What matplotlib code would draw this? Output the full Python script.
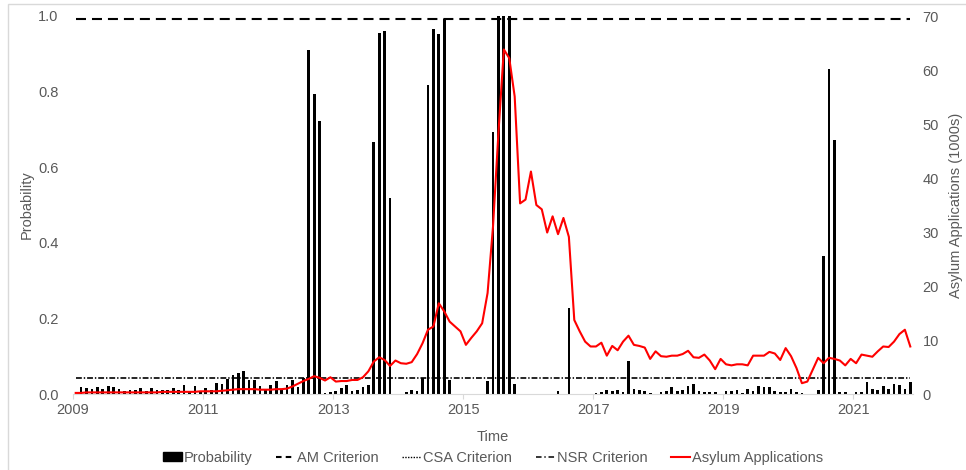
import matplotlib
matplotlib.use("Agg")
import matplotlib.pyplot as plt
import numpy as np
from matplotlib.lines import Line2D
from matplotlib.patches import Patch, Rectangle

plt.rcParams['font.family'] = ['Liberation Sans', 'DejaVu Sans']
plt.rcParams['lines.scale_dashes'] = False

# ---------------- data (monthly, Jan 2009 .. Nov 2021) ----------------
start_year = 2009
year_labels = ['2009', '2011', '2013', '2015', '2017', '2019', '2021']

probability = [
    0.000, 0.018, 0.016, 0.013, 0.018, 0.014, 0.022, 0.018, 0.013, 0.007, 0.010, 0.010,   # 2009
    0.016, 0.007, 0.016, 0.010, 0.011, 0.010, 0.016, 0.010, 0.025, 0.007, 0.022, 0.007,   # 2010
    0.016, 0.010, 0.029, 0.027, 0.040, 0.051, 0.056, 0.060, 0.038, 0.036, 0.020, 0.014,   # 2011
    0.025, 0.035, 0.011, 0.025, 0.036, 0.018, 0.043, 0.911, 0.794, 0.723, 0.003, 0.004,   # 2012
    0.007, 0.016, 0.025, 0.007, 0.010, 0.019, 0.025, 0.667, 0.955, 0.959, 0.518, 0.000,   # 2013
    0.000, 0.004, 0.010, 0.007, 0.042, 0.818, 0.966, 0.953, 0.993, 0.038, 0.000, 0.000,   # 2014
    0.000, 0.000, 0.000, 0.000, 0.035, 0.692, 1.000, 1.000, 1.000, 0.027, 0.000, 0.000,   # 2015
    0.000, 0.000, 0.000, 0.000, 0.000, 0.007, 0.000, 0.227, 0.000, 0.000, 0.000, 0.000,   # 2016
    0.003, 0.004, 0.011, 0.007, 0.010, 0.004, 0.088, 0.013, 0.011, 0.007, 0.003, 0.000,   # 2017
    0.005, 0.007, 0.018, 0.007, 0.010, 0.020, 0.026, 0.009, 0.005, 0.005, 0.005, 0.000,   # 2018
    0.007, 0.007, 0.011, 0.003, 0.013, 0.007, 0.020, 0.018, 0.018, 0.007, 0.004, 0.004,   # 2019
    0.013, 0.005, 0.003, 0.000, 0.000, 0.011, 0.366, 0.860, 0.673, 0.004, 0.004, 0.000,   # 2020
    0.004, 0.004, 0.032, 0.013, 0.010, 0.020, 0.013, 0.027, 0.023, 0.013, 0.032,          # 2021
]

asylum_applications = [
    0.2, 0.2, 0.3, 0.3, 0.3, 0.3, 0.3, 0.3, 0.3, 0.3, 0.3, 0.3,          # 2009
    0.3, 0.3, 0.3, 0.3, 0.4, 0.4, 0.4, 0.4, 0.4, 0.4, 0.4, 0.5,          # 2010
    0.5, 0.5, 0.5, 0.6, 0.7, 0.8, 0.9, 0.9, 0.9, 0.9, 0.8, 0.8,          # 2011
    0.8, 0.9, 0.9, 1.0, 1.4, 1.9, 2.4, 2.8, 3.3, 3.0, 2.5, 3.1,          # 2012
    2.3, 2.4, 2.4, 2.6, 2.6, 3.1, 4.2, 6.0, 6.8, 6.3, 5.2, 6.2,          # 2013
    5.7, 5.6, 5.9, 7.4, 9.4, 11.9, 12.5, 16.8, 15.3, 13.4, 12.5, 11.6,   # 2014
    9.1, 10.4, 11.6, 13.1, 18.7, 31.0, 48.3, 63.8, 62.2, 55.1, 35.3, 36.0,  # 2015
    41.2, 35.0, 34.2, 29.9, 32.9, 29.6, 32.6, 29.1, 13.7, 11.6, 9.7, 8.8,   # 2016
    8.8, 9.5, 7.1, 8.9, 8.1, 9.7, 10.8, 9.1, 8.9, 8.6, 6.5, 7.9,         # 2017
    7.0, 6.9, 7.1, 7.1, 7.4, 8.0, 6.8, 6.7, 7.3, 6.2, 4.6, 6.5,          # 2018
    5.5, 5.3, 5.5, 5.5, 5.3, 7.1, 7.1, 7.1, 7.8, 7.5, 6.3, 8.5,          # 2019
    7.0, 4.8, 2.0, 2.3, 4.5, 6.7, 5.7, 6.7, 6.5, 6.2, 5.3, 6.5,          # 2020
    5.7, 7.3, 7.1, 6.9, 7.9, 8.8, 8.7, 9.7, 11.1, 11.9, 8.8,             # 2021
]

am_criterion = 0.993
nsr_criterion = 0.042

legend_labels = ['Probability', 'AM Criterion', 'CSA Criterion', 'NSR Criterion',
                 'Asylum Applications']

# ---------------- figure ----------------
W, H = 966, 470
fig = plt.figure(figsize=(W / 100, H / 100), dpi=100)
fig.patch.set_facecolor('white')

L, R, T, B = 73, 913, 16, 394
ax = fig.add_axes([L / W, 1 - B / H, (R - L) / W, (B - T) / H])
ax2 = ax.twinx()

n = len(probability)
x = np.arange(n) + 0.5

ax.bar(x, probability, width=0.5, color='black', zorder=2)
ax.plot(x, np.full(n, am_criterion), color='black', lw=1.5,
        dashes=(7.2, 4.3), zorder=3)
ax.plot(x, np.full(n, nsr_criterion), color='black', lw=1.2,
        dashes=(4.2, 1.4, 1.0, 1.4), zorder=3)

ax2.plot(x, asylum_applications, color='#ff0000', lw=1.5, zorder=4)

tick_color = '#595959'
ax.set_xlim(0, 155)
ax.set_ylim(0, 1.0)
ax2.set_ylim(0, 70)

year_pos = [(int(y) - start_year) * 12 for y in year_labels]
ax.set_xticks(year_pos)
ax.set_xticklabels(year_labels)
ax.set_yticks(np.arange(0, 1.01, 0.2))
ax.set_yticklabels([f'{v:.1f}' for v in np.arange(0, 1.01, 0.2)])
ax2.set_yticks(np.arange(0, 71, 10))

ax.tick_params(axis='x', length=3.6, width=0.8, color='#d9d9d9',
               labelsize=10.5, labelcolor=tick_color, pad=3)
ax.tick_params(axis='y', length=0, labelsize=10.5, labelcolor=tick_color, pad=10.5)
ax2.tick_params(axis='y', length=0, labelsize=10.5, labelcolor=tick_color, pad=7)

for a in (ax, ax2):
    for s in a.spines.values():
        s.set_visible(False)
ax.spines['bottom'].set_visible(True)
ax.spines['bottom'].set_color('#d9d9d9')
ax.spines['bottom'].set_linewidth(0.8)

ax.set_ylabel('Probability', fontsize=10.5, color=tick_color)
ax.yaxis.set_label_coords((34 - L) / (R - L), 0.5)
ax2.set_ylabel('Asylum Applications (1000s)', fontsize=10.5, color=tick_color)
ax2.yaxis.set_label_coords((949 - L) / (R - L), 0.5)
ax.set_xlabel('Time', fontsize=10.5, color=tick_color)
ax.xaxis.set_label_coords(0.5, -(430 - B) / (B - T))

handles = [
    Patch(facecolor='black', edgecolor='black'),
    Line2D([], [], color='black', lw=1.5, dashes=(4.0, 3.0)),
    Line2D([], [], color='black', lw=1.0, dashes=(1.0, 1.0)),
    Line2D([], [], color='black', lw=1.1, dashes=(4.0, 2.0, 1.0, 2.0)),
    Line2D([], [], color='#ff0000', lw=1.5),
]
leg = fig.legend(handles, legend_labels, loc='center',
                 bbox_to_anchor=(493 / W, 1 - 458 / H), ncol=5, frameon=False,
                 fontsize=10.5, handlelength=1.3, handleheight=0.6,
                 handletextpad=0.15, columnspacing=1.6)
for t in leg.get_texts():
    t.set_color(tick_color)

# light chart-area border (top & left visible)
fig.patches.append(Rectangle((8 / W, -0.2), 1.5, 1 - 4 / H + 0.2,
                             transform=fig.transFigure, fill=False,
                             edgecolor='#d9d9d9', lw=1.0))

fig.savefig('out.png', dpi=100)
